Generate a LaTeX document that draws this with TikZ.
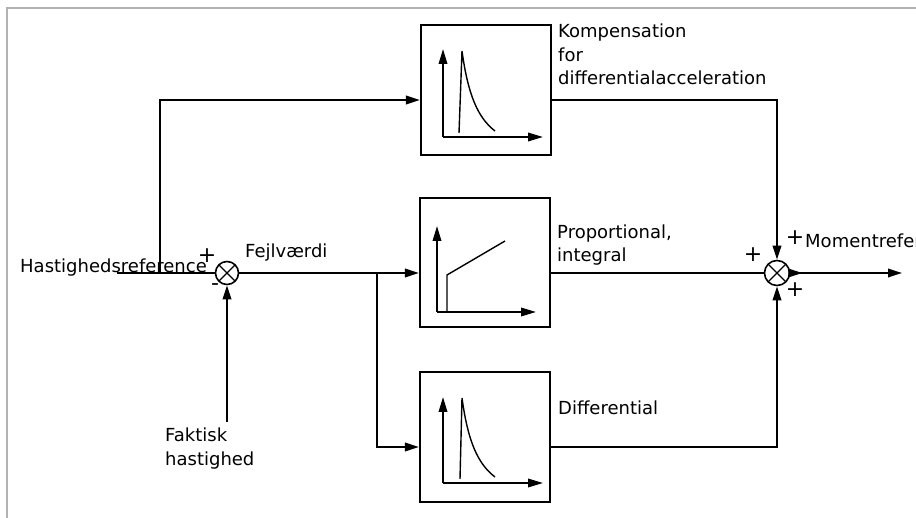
\documentclass[tikz,border=0pt]{standalone}
\usepackage{fontspec}
\setmainfont{DejaVu Sans}
\usetikzlibrary{arrows.meta}
\begin{document}
\begin{tikzpicture}[x=1pt,y=-1pt,
  wire/.style={line width=1.9pt, line join=miter},
  arr/.style={wire, -{Triangle[length=14pt,width=8.5pt]}},
  axisarr/.style={line width=1.9pt, -{Triangle[length=15pt,width=8.5pt]}},
  curve/.style={line width=1.4pt},
  blockbox/.style={draw, line width=2.1pt, minimum width=130pt, minimum height=130pt, inner sep=0pt},
  sumnode/.style={draw, circle, line width=1.6pt, minimum size=23pt, inner sep=0pt,
    path picture={\draw[line width=1.3pt]
      (path picture bounding box.north west) -- (path picture bounding box.south east)
      (path picture bounding box.north east) -- (path picture bounding box.south west);}},
  lbl/.style={font=\fontsize{18}{23.5}\selectfont, inner sep=0pt, anchor=base west, align=left},
  sign/.style={font=\fontsize{22}{22}\selectfont, inner sep=0pt}
]
\useasboundingbox (0,0) rectangle (916,518);
\clip (0,0) rectangle (916,518);

% frame
\draw[black!30, line width=2pt] (7,520) -- (7,8) -- (920,8);

% blocks
\node[blockbox] (kdiff) at (486,90) {};
\node[blockbox, minimum height=129pt] (pi) at (485,262.5) {};
\node[blockbox] (diff) at (485,437) {};

% summing points
\node[sumnode] (s1) at (227,273) {};
\node[sumnode, minimum size=25pt] (s2) at (777,273) {};

% connection points
\coordinate (in) at (117,273);
\coordinate (tap) at (160,273);
\coordinate (up) at (160,100);
\coordinate (fb) at (227,422);
\coordinate (fork) at (377,273);
\coordinate (low) at (377,447);
\coordinate (out) at (902,273);

% signal lines
\draw[wire] (in) -- (s1.west);
\draw[arr] (tap) -- (up) -- (kdiff.west |- up);
\draw[arr] (s1.east) -- (pi.west |- s1);
\draw[arr] (fork) -- (low) -- (diff.west |- low);
\draw[arr] (fb) -- (s1.south);
\draw[arr] (kdiff.east |- up) -- (s2 |- up) -- (s2.north);
\draw[wire] (pi.east |- s2) -- (s2.west);
\draw[arr] (diff.east |- low) -- (s2 |- low) -- (s2.south);
\draw[arr] (s2.east) -- (out);
\draw[arr] (s2.east) -- ++(12,0);

% block characteristics
\draw[axisarr] (443,137) -- (443,49);
\draw[axisarr] (443,137) -- (543,137);
\draw[curve] (459,133) -- (462,51) .. controls (468,95) and (478,118) .. (495,131);

\draw[axisarr] (437,312) -- (437,226);
\draw[axisarr] (437,312) -- (536,312);
\draw[curve] (447,312) -- (447,275) -- (505,241);

\draw[axisarr] (443,483) -- (443,397);
\draw[axisarr] (443,483) -- (543,483);
\draw[curve] (460,479) -- (462,398) .. controls (468,442) and (478,464) .. (495,477);

% labels (base anchor sits on the last line)
\node[lbl] (lref) at (20,273) {Hastighedsreference};
\node[lbl] (lerr) at (245,258) {Fejlværdi};
\node[lbl] (lact) at (165,465) {Faktisk\\hastighed};
\node[lbl] (lkomp) at (558,85) {Kompensation\\for\\differentialacceleration};
\node[lbl] (lpi) at (557,262) {Proportional,\\integral};
\node[lbl] (ldiff) at (558,415) {Differential};
\node[lbl] (lout) at (805,248) {Momentreference};

% signs
\node[sign] (p1) at (207,256) {+};
\node[sign] (m1) at (215,287) {-};
\node[sign] (p2) at (795,238) {+};
\node[sign] (p3) at (753,255) {+};
\node[sign] (p4) at (795,290) {+};
\end{tikzpicture}
\end{document}
